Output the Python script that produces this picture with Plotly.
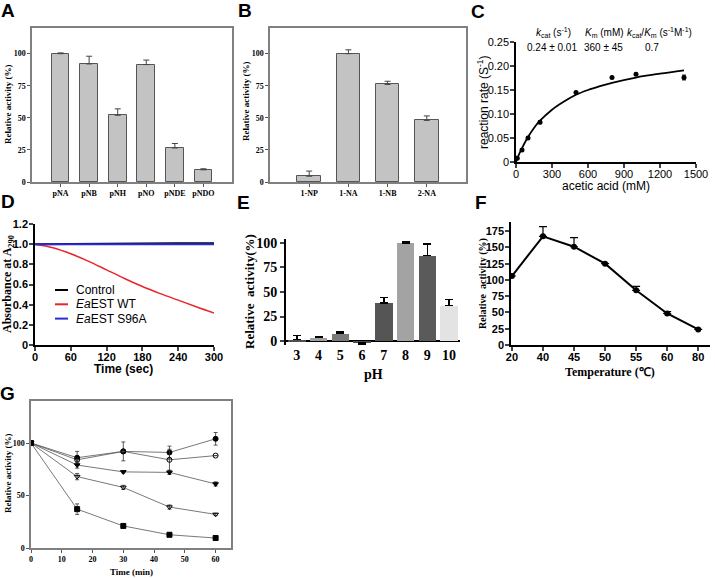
import plotly.graph_objects as go

W, H = 715, 578

# ---------------- data ----------------
# A: p-nitrophenyl esters
a_cats = ["pNA", "pNB", "pNH", "pNO", "pNDE", "pNDO"]
a_vals = [100, 92, 52, 91.5, 26.5, 9.5]
a_err = [0.6, 6, 5, 3.5, 3.5, 0.8]

# B: naphthyl esters
b_cats = ["1-NP", "1-NA", "1-NB", "2-NA"]
b_vals = [4.5, 100, 76, 48]
b_err = [4, 3, 2.5, 3.5]

# C: kinetics
c_x = [10, 50, 100, 200, 500, 800, 1000, 1400]
c_y = [0.008, 0.025, 0.050, 0.083, 0.145, 0.176, 0.183, 0.176]
c_err = [0.002, 0.002, 0.003, 0.003, 0.002, 0.002, 0.002, 0.005]
c_fit_x = [0, 25, 50, 100, 150, 200, 300, 400, 500, 600, 700, 800, 1000, 1200, 1400]
c_fit_y = [0, 0.016, 0.029, 0.052, 0.071, 0.086, 0.109, 0.126, 0.140, 0.150, 0.158, 0.165, 0.176, 0.184, 0.191]

# D: absorbance time course
d_t = [0, 30, 60, 90, 120, 150, 180, 210, 240, 270, 300]
d_control = [1.0, 1.002, 1.003, 1.004, 1.005, 1.006, 1.008, 1.008, 1.009, 1.01, 1.01]
d_wt = [1.0, 0.965, 0.905, 0.83, 0.745, 0.66, 0.58, 0.51, 0.445, 0.38, 0.318]
d_s96a = [1.0, 1.0, 1.0, 1.0, 1.0, 1.0, 1.0, 1.0, 1.0, 1.0, 1.0]
d_names = ["Control", "<i>Ea</i>EST WT", "<i>Ea</i>EST S96A"]
d_colors = ["black", "#e8262b", "#2a2ad8"]

# E: pH
e_ph = [3, 4, 5, 6, 7, 8, 9, 10]
e_vals = [1.5, 3.5, 7.5, -2, 39, 100, 87, 36]
e_err_up = [4, 1, 1.5, 0, 5.5, 1.5, 12, 6.5]
e_err_dn = [0, 0, 0, 1.5, 0, 0, 0, 0]
e_colors = ["#505050", "#a0a0a0", "#7a7a7a", "#505050", "#555555", "#a3a3a3", "#5a5a5a", "#e3e3e3"]

# F: temperature
f_temp = ["20", "40", "45", "50", "55", "60", "80"]
f_vals = [106, 167, 151, 125, 84, 48.5, 24]
f_err = [0, 15, 14, 0, 6, 3, 0]

# G: stability over time
g_t = [0, 15, 30, 45, 60]
g_s1 = [100, 86, 92, 91, 104]
g_s1_err = [0, 6, 0, 6, 6]
g_s2 = [100, 84, 92, 84, 88]
g_s2_err = [0, 2, 9, 10, 0]
g_s3 = [100, 79, 72.5, 72, 61]
g_s3_err = [0, 3, 1, 2, 2]
g_s4 = [100, 68, 57.7, 39, 32]
g_s4_err = [0, 3, 2, 2, 1]
g_s5 = [100, 37, 21, 12.6, 9.5]
g_s5_err = [0, 5, 1, 1, 1]

# ---------------- helpers ----------------
def dx(px):
    return px / W

def dy(py):
    return 1 - py / H

SERIF = "Liberation Serif"
SANS = "Liberation Sans"

fig = go.Figure()

bar_fill = "#c3c3c3"
bar_line = "#555555"

# A
fig.add_trace(go.Bar(x=a_cats, y=a_vals, width=0.62, marker=dict(color=bar_fill, line=dict(color=bar_line, width=1)),
                     error_y=dict(type="data", array=a_err, arrayminus=[0]*len(a_err), color="#444", thickness=1, width=3),
                     xaxis="x", yaxis="y", showlegend=False))
# B
fig.add_trace(go.Bar(x=b_cats, y=b_vals, width=0.6, marker=dict(color=bar_fill, line=dict(color=bar_line, width=1)),
                     error_y=dict(type="data", array=b_err, arrayminus=[0]*len(b_err), color="#444", thickness=1, width=3),
                     xaxis="x2", yaxis="y2", showlegend=False))
# C
fig.add_trace(go.Scatter(x=c_fit_x, y=c_fit_y, mode="lines", line=dict(color="black", width=1.8, shape="spline"),
                         xaxis="x3", yaxis="y3", showlegend=False))
fig.add_trace(go.Scatter(x=c_x, y=c_y, mode="markers", marker=dict(color="black", size=5),
                         error_y=dict(type="data", array=c_err, color="black", thickness=1, width=2),
                         xaxis="x3", yaxis="y3", showlegend=False))
# D
for yv, nm, col, w, shp in [(d_control, d_names[0], d_colors[0], 2, "linear"),
                            (d_wt, d_names[1], d_colors[1], 1.5, "spline"),
                            (d_s96a, d_names[2], d_colors[2], 2, "linear")]:
    fig.add_trace(go.Scatter(x=d_t, y=yv, mode="lines", name=nm, line=dict(color=col, width=w, shape=shp),
                             xaxis="x4", yaxis="y4", showlegend=False))
# E
fig.add_trace(go.Bar(x=e_ph, y=e_vals, width=0.8, marker=dict(color=e_colors, line=dict(width=0)),
                     error_y=dict(type="data", array=e_err_up, arrayminus=e_err_dn, color="black", thickness=1.5, width=4),
                     xaxis="x5", yaxis="y5", showlegend=False))
# F
fig.add_trace(go.Scatter(x=list(range(len(f_temp))), y=f_vals, mode="lines+markers",
                         line=dict(color="black", width=2), marker=dict(color="black", size=6),
                         error_y=dict(type="data", array=f_err, arrayminus=[0]*len(f_err), color="black", thickness=1.2, width=4),
                         xaxis="x6", yaxis="y6", showlegend=False))
# G
g_series = [
    (g_s1, g_s1_err, "circle"),
    (g_s2, g_s2_err, "circle-open"),
    (g_s3, g_s3_err, "triangle-down"),
    (g_s4, g_s4_err, "triangle-down-open"),
    (g_s5, g_s5_err, "square"),
]
for vals, err, sym in g_series:
    fig.add_trace(go.Scatter(x=g_t, y=vals, mode="lines+markers",
                             line=dict(color="#555", width=0.8),
                             marker=dict(symbol=sym, color="black", size=5, line=dict(color="black", width=1)),
                             error_y=dict(type="data", array=err, color="#333", thickness=0.8, width=2),
                             xaxis="x7", yaxis="y7", showlegend=False))

small_serif = dict(family=SERIF, size=8, color="black", weight="bold")
sans11b = dict(family=SANS, size=11, color="black", weight="bold")
sans11 = dict(family=SANS, size=11, color="black")

box_common = dict(showline=True, mirror=True, linecolor="#808080", linewidth=1.5, showgrid=False, zeroline=False,
                  ticks="outside", ticklen=3, tickcolor="#555", tickfont=small_serif, automargin=False)
open_common = dict(showline=True, linecolor="black", linewidth=1.5, ticks="outside", ticklen=4, tickwidth=1.5,
                   showgrid=False, zeroline=False, automargin=False)

layout = dict(
    width=W, height=H, margin=dict(l=0, r=0, t=0, b=0, autoexpand=False),
    paper_bgcolor="white", plot_bgcolor="white", bargap=0, showlegend=False,
    # A
    xaxis=dict(domain=[dx(32), dx(232)], anchor="y", type="category", range=[-1, 6], **box_common),
    yaxis=dict(domain=[dy(182), dy(28)], anchor="x", range=[0, 120], tickvals=[0, 25, 50, 75, 100], **box_common),
    # B
    xaxis2=dict(domain=[dx(270), dx(466)], anchor="y2", type="category", range=[-1, 4], **box_common),
    yaxis2=dict(domain=[dy(182), dy(28)], anchor="x2", range=[0, 120], tickvals=[0, 25, 50, 75, 100], **box_common),
    # C
    xaxis3=dict(domain=[dx(516), dx(696)], anchor="y3", range=[0, 1500], tickvals=[0, 300, 600, 900, 1200, 1500],
                tickfont=sans11, ticklabelstandoff=-3, **open_common),
    yaxis3=dict(domain=[dy(162), dy(42)], anchor="x3", range=[0, 0.25],
                tickvals=[0, 0.05, 0.10, 0.15, 0.20, 0.25], ticktext=["0", "0.05", "0.10", "0.15", "0.20", "0.25"],
                tickfont=sans11, ticklabelstandoff=-1, **open_common),
    # D
    xaxis4=dict(domain=[dx(35), dx(214)], anchor="y4", range=[0, 300], tickvals=[0, 60, 120, 180, 240, 300],
                tickfont=sans11b, ticklabelstandoff=-3, **open_common),
    yaxis4=dict(domain=[dy(345), dy(224)], anchor="x4", range=[0, 1.2],
                tickvals=[0, 0.2, 0.4, 0.6, 0.8, 1.0, 1.2], ticktext=["0", "0.2", "0.4", "0.6", "0.8", "1.0", "1.2"],
                tickfont=sans11b, ticklabelstandoff=-1, **open_common),
    # E
    xaxis5=dict(domain=[dx(286), dx(460)], anchor="y5", range=[2.5, 10.5], tickvals=e_ph,
                showline=False, ticks="", showgrid=False, zeroline=False, automargin=False,
                tickfont=dict(family=SERIF, size=14, color="black", weight="bold")),
    yaxis5=dict(domain=[dy(345), dy(239)], anchor="x5", range=[-4, 104], tickvals=[0, 25, 50, 75, 100],
                showline=True, linecolor="black", linewidth=2, ticks="outside", ticklen=4, tickwidth=2,
                showgrid=False, zeroline=True, zerolinecolor="black", zerolinewidth=2, automargin=False,
                tickfont=dict(family=SERIF, size=14, color="black", weight="bold")),
    # F
    xaxis6=dict(domain=[dx(511), dx(710)], anchor="y6", range=[-0.03, 6.38], tickvals=list(range(len(f_temp))),
                ticktext=f_temp, tickfont=sans11b, ticklabelstandoff=-3, **open_common),
    yaxis6=dict(domain=[dy(345), dy(222)], anchor="x6", range=[0, 189], tickvals=[0, 25, 50, 75, 100, 125, 150, 175],
                tickfont=sans11b, ticklabelstandoff=-1, **open_common),
    # G
    xaxis7=dict(domain=[dx(31), dx(231)], anchor="y7", range=[0, 65], tickvals=[0, 10, 20, 30, 40, 50, 60], **box_common),
    yaxis7=dict(domain=[dy(548), dy(401)], anchor="x7", range=[0, 140], tickvals=[0, 50, 100], **box_common),
)
fig.update_layout(**layout)

ann = []
def text(x, y, s, font, angle=0, xanchor="center", yanchor="middle"):
    ann.append(dict(x=dx(x), y=dy(y), xref="paper", yref="paper", text=s, showarrow=False, font=font,
                    textangle=angle, xanchor=xanchor, yanchor=yanchor))

letter = dict(family=SANS, size=19, color="black", weight="bold")
for s, x, y in [("A", 8, 11), ("B", 245, 11), ("C", 478, 12), ("D", 8, 201), ("E", 243, 202), ("F", 481, 202), ("G", 7, 393)]:
    text(x, y, s, letter)

ylab_small = dict(family=SERIF, size=9, color="black", weight="bold")
text(8, 105, "Relative activity (%)", ylab_small, angle=-90)
text(246, 101, "Relative activity (%)", ylab_small, angle=-90)
text(8, 474, "Relative activity (%)", ylab_small, angle=-90)
text(131, 572, "Time (min)", ylab_small)

text(483, 102, "reaction rate (S<sup>-1</sup>)", dict(family=SANS, size=12, color="black"), angle=-90)
text(606, 186, "acetic acid (mM)", dict(family=SANS, size=12, color="black"))
hdr = dict(family=SANS, size=10, color="black")
text(553, 33, "<i>k</i><sub>cat</sub> (s<sup>-1</sup>)", hdr)
text(604, 33, "<i>K</i><sub>m</sub> (mM)", hdr)
text(659, 33, "<i>k</i><sub>cat</sub>/<i>K</i><sub>m</sub> (s<sup>-1</sup>M<sup>-1</sup>)", hdr)
text(552, 48, "0.24 ± 0.01", hdr)
text(603, 48, "360 ± 45", hdr)
text(652, 48, "0.7", hdr)

text(8, 284, "Absorbance at A<sub>290</sub>", dict(family=SERIF, size=12, color="black", weight="bold"), angle=-90)
text(124, 369, "Time (sec)", dict(family=SANS, size=12, color="black", weight="bold"))

# legend for D (manual, compact)
shapes = []
for i, (nm, col) in enumerate(zip(d_names, d_colors)):
    yy = 290 + 14.3 * i
    shapes.append(dict(type="line", xref="paper", yref="paper", x0=dx(55), x1=dx(68), y0=dy(yy), y1=dy(yy),
                       line=dict(color=col, width=2)))
    text(74, yy, nm, dict(family=SANS, size=12, color="black"), xanchor="left")

text(249, 292, "Relative  activity(%)", dict(family=SERIF, size=13, color="black", weight="bold"), angle=-90)
text(373, 374, "pH", dict(family=SERIF, size=14, color="black", weight="bold"))

text(483, 283, "Relative  activity (%)", dict(family=SERIF, size=10, color="black", weight="bold"), angle=-90)
text(610, 372, "Temperature (℃)", dict(family=SERIF, size=12, color="black", weight="bold"))

fig.update_layout(annotations=ann, shapes=shapes)
fig.write_html("out.html", config={"displayModeBar": False},
               post_script="document.body.style.margin='0px';document.body.style.overflow='hidden';")
